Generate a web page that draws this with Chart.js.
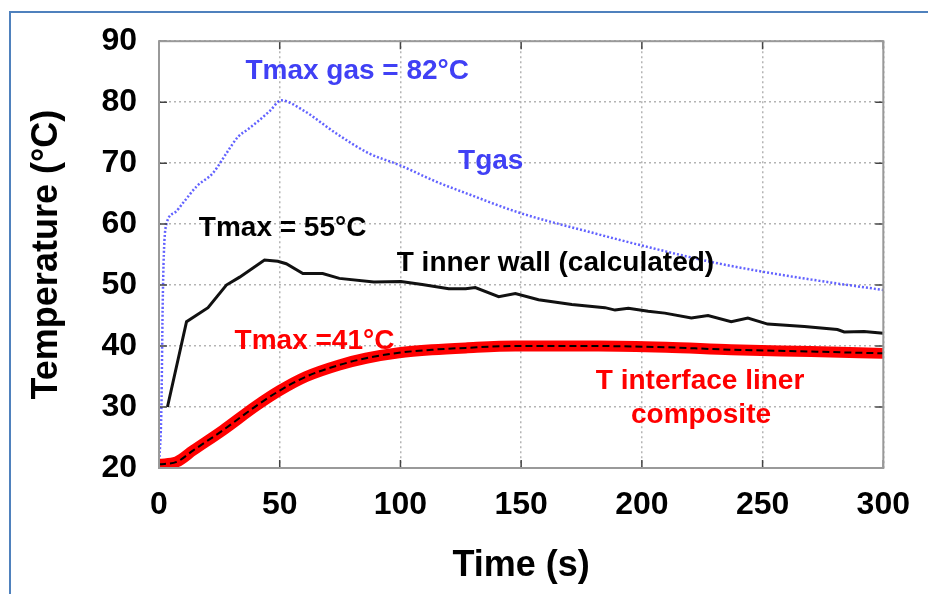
<!DOCTYPE html>
<html>
<head>
<meta charset="utf-8">
<script src="https://cdn.jsdelivr.net/npm/chart.js@4/dist/chart.umd.min.js"></script>
<style>
  body { margin: 0; background: #fff; }
  #wrap { position: relative; width: 928px; height: 594px; }
  #frame { position: absolute; left: 9px; top: 11px; right: 0; bottom: 0;
           border-top: 2px solid #4f81bd; border-left: 2px solid #4f81bd; }
  canvas { position: absolute; left: 0; top: 0; }
</style>
</head>
<body>
<div id="wrap">
  <div id="frame"></div>
  <canvas id="tempChart" width="928" height="594"></canvas>
</div>
<script>
// T gas (blue dotted)
var gasTime = [0, 1, 1.5, 2, 3, 6.6, 10, 15.6, 22.4, 27.9, 32.7, 37, 41.7, 46, 50.6, 59.6, 73.3, 87, 99.5, 114.6, 128.3, 149, 176.5, 199.9, 228.7, 250, 276.9, 300];
var gasTemp = [20.5, 30, 46, 55, 59.9, 61.9, 63.5, 66.2, 68.4, 71.6, 74.3, 75.6, 77.1, 78.6, 80.3, 78.7, 74.9, 71.6, 69.7, 67, 64.9, 61.9, 58.9, 56.5, 53.8, 52.2, 50.5, 49.2];

// T inner wall (calculated), black
var wallTime = [3.5, 11.4, 20.3, 27.9, 33.4, 43.7, 49.2, 52.7, 59.6, 67.8, 74.7, 89, 100.2, 109, 120, 127, 131, 140.7, 147.6, 157.2, 171, 184.7, 188.9, 194.4, 202.6, 209.5, 220.5, 227.4, 237, 243.9, 252.1, 267.3, 281, 283.8, 292, 300];
var wallTemp = [30, 44, 46.3, 50, 51.3, 54.1, 53.9, 53.5, 51.9, 51.9, 51.1, 50.5, 50.6, 50.1, 49.4, 49.4, 49.6, 48.1, 48.6, 47.6, 46.8, 46.3, 45.9, 46.2, 45.7, 45.4, 44.6, 45, 44, 44.6, 43.6, 43.2, 42.7, 42.3, 42.4, 42.1];

// T interface liner composite, red
var linerTime = [0, 7.3, 14.2, 26.5, 40.3, 50, 61, 74.7, 85.7, 99.4, 113.2, 127, 147.6, 182, 210, 237, 270, 300];
var linerTemp = [20.6, 21, 22.9, 26.2, 30.2, 32.7, 35.0, 36.9, 38.0, 38.9, 39.4, 39.7, 40, 40, 39.8, 39.4, 39.1, 38.8];

var timeTicks = [0, 50, 100, 150, 200, 250, 300];
var tempTicks = [20, 30, 40, 50, 60, 70, 80, 90];

var labelTexts = ['Tmax gas = 82°C', 'Tgas', 'Tmax = 55°C', 'T inner wall (calculated)', 'Tmax =41°C', 'T interface liner', 'composite'];

function toPoints(xs, ys) {
    return xs.map(function (x, i) { return { x: x, y: ys[i] }; });
}

var blue = '#4040f5';
var red = '#ff0000';

// where the annotations sit, in data units
var labelSpots = [
    { x: 82.1, y: 85.0, color: blue },
    { x: 137.4, y: 70.3, color: blue },
    { x: 51.2, y: 59.3, color: '#000' },
    { x: 164.2, y: 53.5, color: '#000' },
    { x: 64.4, y: 40.8, color: red },
    { x: 224.1, y: 34.3, color: red },
    { x: 224.5, y: 28.6, color: red }
];

var boxPlugin = {
    id: 'boxPlugin',
    afterDatasetsDraw: function (chart) {
        var ctx = chart.ctx;
        var a = chart.chartArea;
        var xs = chart.scales.x, ys = chart.scales.y;
        ctx.save();
        // inner tick marks
        ctx.strokeStyle = '#444';
        ctx.lineWidth = 1.5;
        ctx.beginPath();
        tempTicks.forEach(function (v) {
            var py = ys.getPixelForValue(v);
            ctx.moveTo(a.left, py); ctx.lineTo(a.left + 8, py);
            ctx.moveTo(a.right, py); ctx.lineTo(a.right - 8, py);
        });
        timeTicks.forEach(function (v) {
            var px = xs.getPixelForValue(v);
            ctx.moveTo(px, a.bottom); ctx.lineTo(px, a.bottom - 8);
            ctx.moveTo(px, a.top); ctx.lineTo(px, a.top + 8);
        });
        ctx.stroke();
        // box
        ctx.strokeStyle = '#999';
        ctx.lineWidth = 2;
        ctx.strokeRect(a.left, a.top, a.right - a.left, a.bottom - a.top);
        // annotations
        ctx.font = 'bold 28px "Liberation Sans", Arial, sans-serif';
        ctx.textAlign = 'center';
        ctx.textBaseline = 'middle';
        labelSpots.forEach(function (s, i) {
            ctx.fillStyle = s.color;
            ctx.fillText(labelTexts[i], xs.getPixelForValue(s.x), ys.getPixelForValue(s.y));
        });
        ctx.restore();
    }
};

var tickFont = { family: '"Liberation Sans", Arial, sans-serif', size: 32, weight: 'bold' };

new Chart(document.getElementById('tempChart'), {
    type: 'line',
    data: {
        datasets: [
            {
                label: 'Tgas',
                data: toPoints(gasTime, gasTemp),
                borderColor: 'rgba(70,70,255,0.85)',
                borderWidth: 2.5,
                borderDash: [2, 2],
                pointRadius: 0,
                cubicInterpolationMode: 'monotone',
                order: 3
            },
            {
                label: 'T inner wall',
                data: toPoints(wallTime, wallTemp),
                borderColor: '#111',
                borderWidth: 3,
                pointRadius: 0,
                tension: 0,
                order: 2
            },
            {
                label: 'T interface liner',
                data: toPoints(linerTime, linerTemp),
                borderColor: red,
                borderWidth: 11,
                pointRadius: 0,
                cubicInterpolationMode: 'monotone',
                order: 1
            },
            {
                label: 'T interface liner (core)',
                data: toPoints(linerTime, linerTemp),
                borderColor: '#000',
                borderWidth: 2,
                borderDash: [7, 4],
                pointRadius: 0,
                cubicInterpolationMode: 'monotone',
                order: 0
            }
        ]
    },
    options: {
        responsive: false,
        animation: false,
        layout: { padding: { left: 0, right: 42, top: 37, bottom: 0 } },
        plugins: { legend: { display: false }, tooltip: { enabled: false } },
        scales: {
            x: {
                type: 'linear',
                min: 0, max: 300,
                afterFit: function (s) { s.height = 126; },
                afterBuildTicks: function (s) { s.ticks = timeTicks.map(function (v) { return { value: v }; }); },
                ticks: { color: '#000', font: tickFont, padding: 18, maxRotation: 0 },
                grid: { color: '#b4b4b4', lineWidth: 1.5, drawTicks: false },
                border: { display: false, dash: [2, 3] },
                title: {
                    display: true, text: 'Time (s)', color: '#000',
                    font: { family: '"Liberation Sans", Arial, sans-serif', size: 36, weight: 'bold' },
                    padding: { top: 0, bottom: 6 }
                }
            },
            y: {
                min: 20, max: 90,
                afterFit: function (s) { s.width = 159; },
                afterBuildTicks: function (s) { s.ticks = tempTicks.map(function (v) { return { value: v }; }); },
                ticks: { color: '#000', font: tickFont, padding: 22 },
                grid: { color: '#b4b4b4', lineWidth: 1.5, drawTicks: false },
                border: { display: false, dash: [2, 3] },
                title: {
                    display: true, text: 'Temperature (°C)', color: '#000',
                    font: { family: '"Liberation Sans", Arial, sans-serif', size: 36, weight: 'bold' },
                    padding: { top: 25, bottom: 0 }
                }
            }
        }
    },
    plugins: [boxPlugin]
});
</script>
</body>
</html>
